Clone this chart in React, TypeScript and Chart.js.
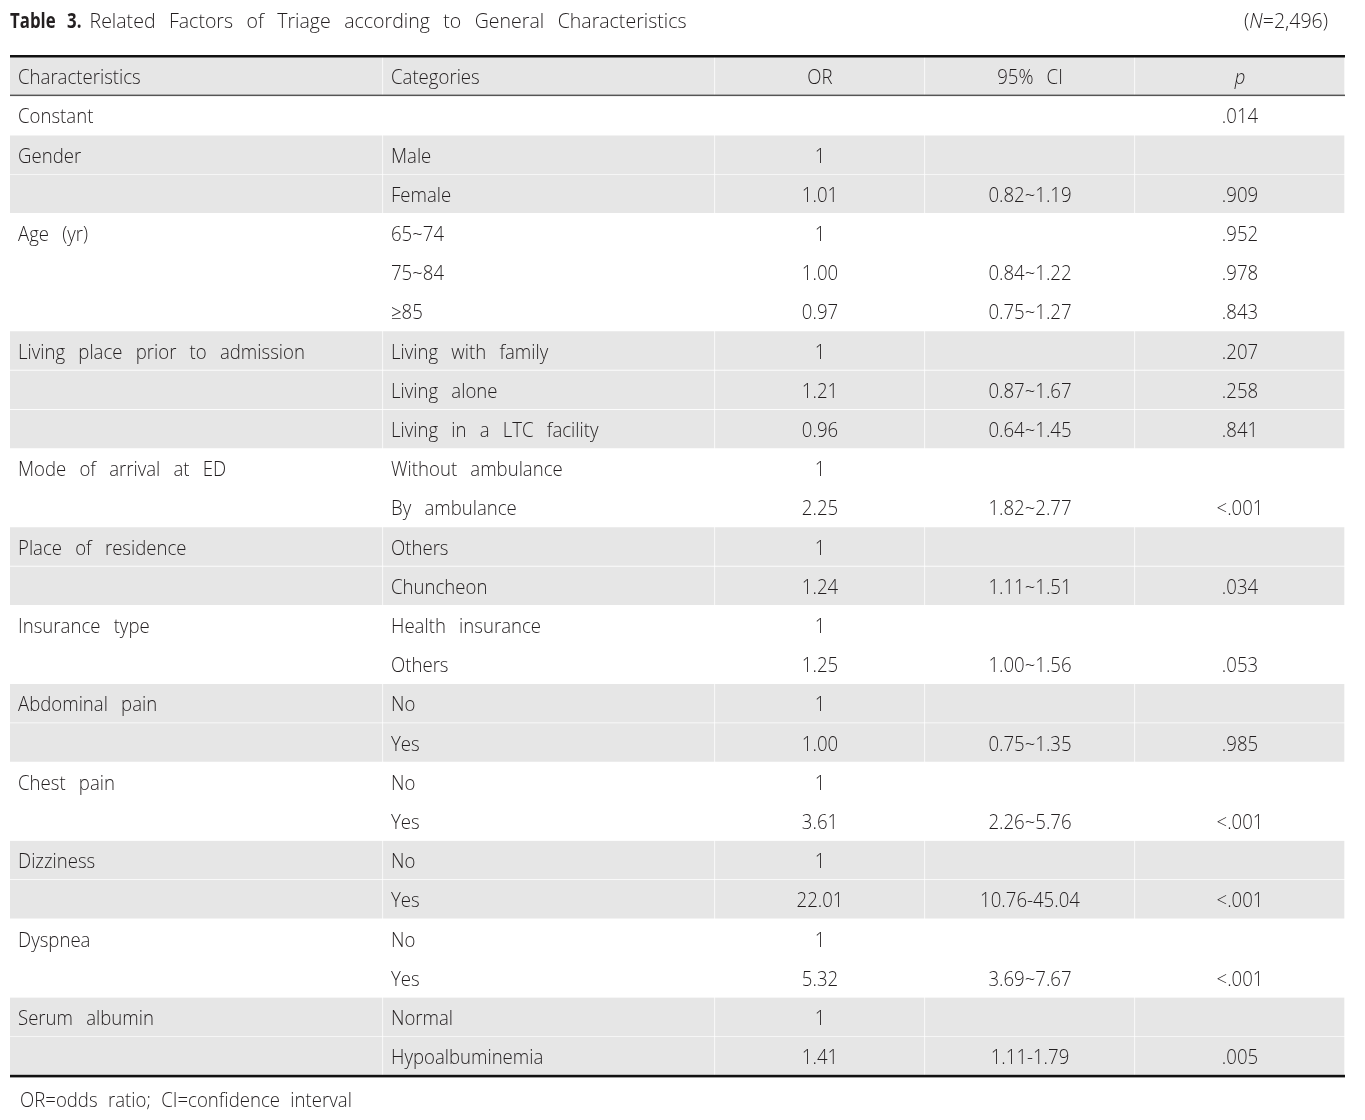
import React, { useEffect, useRef } from "react";
import { Chart, registerables } from "chart.js";

Chart.register(...registerables);

// ---------- data ----------
const titleBold = "Table 3.";
const titleText = "Related Factors of Triage according to General Characteristics";
const sampleLabel = ["(", "N", "=2,496)"];
const footnote = "OR=odds ratio; CI=confidence interval";

const headerLabels = ["Characteristics", "Categories", "OR", "95% CI", "p"];

const characteristics = [
  "Constant", "Gender", "", "Age (yr)", "", "", "Living place prior to admission", "", "",
  "Mode of arrival at ED", "", "Place of residence", "", "Insurance type", "",
  "Abdominal pain", "", "Chest pain", "", "Dizziness", "", "Dyspnea", "", "Serum albumin", "",
];
const categories = [
  "", "Male", "Female", "65~74", "75~84", "≥85", "Living with family", "Living alone",
  "Living in a LTC facility", "Without ambulance", "By ambulance", "Others", "Chuncheon",
  "Health insurance", "Others", "No", "Yes", "No", "Yes", "No", "Yes", "No", "Yes",
  "Normal", "Hypoalbuminemia",
];
const oddsRatios = [
  "", "1", "1.01", "1", "1.00", "0.97", "1", "1.21", "0.96", "1", "2.25", "1", "1.24",
  "1", "1.25", "1", "1.00", "1", "3.61", "1", "22.01", "1", "5.32", "1", "1.41",
];
const confidenceIntervals = [
  "", "", "0.82~1.19", "", "0.84~1.22", "0.75~1.27", "", "0.87~1.67", "0.64~1.45", "",
  "1.82~2.77", "", "1.11~1.51", "", "1.00~1.56", "", "0.75~1.35", "", "2.26~5.76", "",
  "10.76-45.04", "", "3.69~7.67", "", "1.11-1.79",
];
const pValues = [
  ".014", "", ".909", ".952", ".978", ".843", ".207", ".258", ".841", "", "<.001", "",
  ".034", "", ".053", "", ".985", "", "<.001", "", "<.001", "", "<.001", "", ".005",
];

// ---------- layout (not data) ----------
const COL_EDGES = [0, 373, 705, 915, 1125, 1335];
const FONT_FAMILY = '"Open Sans", "Noto Sans", sans-serif';
const SX = 0.93;
const WORD_SPACING = "9px";
const TEXT_COLOR = "#231f20";
const GRAY = "#e6e6e6";

const columns = [characteristics, categories, oddsRatios, confidenceIntervals, pValues];
const rowCount = characteristics.length + 1;
const rowKeys = Array.from({ length: rowCount }, (_, i) => (i === 0 ? "header" : "row" + i));

// shading: header gray, then alternate by characteristic group (first group white)
const shaded: boolean[] = [true];
{
  let group = -1;
  characteristics.forEach((c) => {
    if (c !== "") group += 1;
    shaded.push(group % 2 === 1);
  });
}

function drawText(
  ctx: CanvasRenderingContext2D,
  text: string,
  x: number,
  y: number,
  align: CanvasTextAlign,
  font: string,
  sx = SX,
  ws = WORD_SPACING
) {
  if (!text) return;
  ctx.save();
  ctx.font = font;
  (ctx as any).wordSpacing = ws;
  ctx.fillStyle = TEXT_COLOR;
  ctx.textBaseline = "middle";
  ctx.textAlign = align;
  ctx.translate(x, y);
  ctx.scale(sx, 1);
  ctx.fillText(text, 0, 0);
  ctx.restore();
}

function textWidth(ctx: CanvasRenderingContext2D, text: string, font: string, sx = SX) {
  ctx.save();
  ctx.font = font;
  (ctx as any).wordSpacing = WORD_SPACING;
  const w = ctx.measureText(text).width * sx;
  ctx.restore();
  return w;
}

const tablePlugin = {
  id: "tableText",
  afterDatasetsDraw(chart: any) {
    const { ctx, chartArea, scales } = chart;
    const xs = scales.x;
    const ys = scales.y;
    const left = chartArea.left;
    const right = chartArea.right;
    const band = ys.getPixelForValue(1) - ys.getPixelForValue(0);
    const bodyFont = `300 20px ${FONT_FAMILY}`;
    const italicFont = `italic 300 20px ${FONT_FAMILY}`;

    // rules
    ctx.save();
    ctx.fillStyle = "#111";
    ctx.fillRect(left, chartArea.top - 2, right - left, 2.5);
    ctx.fillStyle = "#555";
    ctx.fillRect(left, chartArea.top + band - 1.6, right - left, 1.5);
    ctx.fillStyle = "#111";
    ctx.fillRect(left, chartArea.bottom - 1.2, right - left, 2.6);
    ctx.restore();

    // header + body cells
    for (let r = 0; r < rowCount; r++) {
      const yc = ys.getPixelForValue(r) + 2;
      for (let c = 0; c < columns.length; c++) {
        const text = r === 0 ? headerLabels[c] : columns[c][r - 1];
        const x0 = xs.getPixelForValue(COL_EDGES[c]);
        const x1 = xs.getPixelForValue(COL_EDGES[c + 1]);
        const font = r === 0 && c === 4 ? italicFont : bodyFont;
        if (c < 2) drawText(ctx, text, x0 + 8, yc, "left", font);
        else drawText(ctx, text, (x0 + x1) / 2, yc, "center", font);
      }
    }

    // title
    const titleY = 22;
    const boldFont = `bold 21px ${FONT_FAMILY}`;
    const regFont = `300 21px ${FONT_FAMILY}`;
    drawText(ctx, titleBold, left, titleY, "left", boldFont, 0.8);
    const bw = textWidth(ctx, titleBold, boldFont, 0.8);
    drawText(ctx, titleText, left + bw + 8, titleY, "left", regFont);

    // (N=2,496) right aligned
    const nFonts = [regFont, `italic 300 21px ${FONT_FAMILY}`, regFont];
    const widths = sampleLabel.map((t, i) => textWidth(ctx, t, nFonts[i]));
    let nx = 1328 - widths.reduce((a, b) => a + b, 0);
    sampleLabel.forEach((t, i) => {
      drawText(ctx, t, nx, titleY, "left", nFonts[i]);
      nx += widths[i];
    });

    // footnote
    drawText(ctx, footnote, left + 10, chartArea.bottom + 25, "left", `300 20px ${FONT_FAMILY}`, SX, "6px");
  },
};

export default function App() {
  const ref = useRef<HTMLCanvasElement | null>(null);

  useEffect(() => {
    if (!ref.current) return;
    const datasets = COL_EDGES.slice(0, -1).map((edge, c) => ({
      label: headerLabels[c],
      data: rowKeys.map((_, r) => (shaded[r] ? [edge, COL_EDGES[c + 1]] : null)),
      backgroundColor: GRAY,
      borderColor: "#ffffff",
      borderWidth: { top: 0, left: 0, right: 1, bottom: 1 },
      borderSkipped: false,
      barPercentage: 1,
      categoryPercentage: 1,
      grouped: false,
    }));
    const chart = new Chart(ref.current, {
      type: "bar",
      data: { labels: rowKeys, datasets: datasets as any },
      options: {
        indexAxis: "y",
        responsive: false,
        animation: false,
        layout: { padding: { left: 10, right: 20, top: 57, bottom: 44 } },
        scales: {
          x: { type: "linear", min: 0, max: 1335, display: false },
          y: { type: "category", display: false, offset: true },
        },
        plugins: { legend: { display: false }, tooltip: { enabled: false }, title: { display: false } },
      },
      plugins: [tablePlugin],
    });
    return () => chart.destroy();
  }, []);

  return (
    <div style={{ position: "absolute", left: 0, top: 0, width: 1365, height: 1120, background: "#fff" }}>
      <canvas ref={ref} width={1365} height={1120} style={{ display: "block" }} />
    </div>
  );
}
